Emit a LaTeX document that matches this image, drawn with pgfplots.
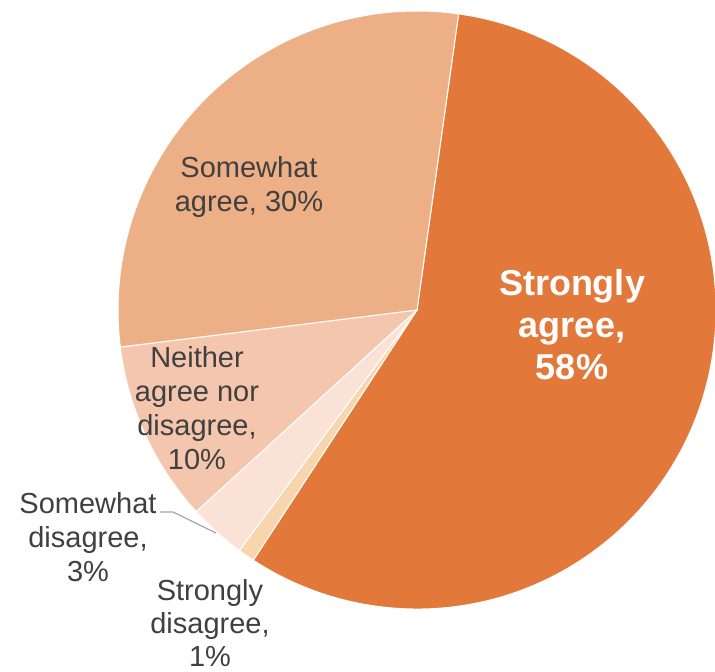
\documentclass[border=0pt]{standalone}
\usepackage{pgfplots}
\pgfplotsset{compat=1.18}
\usepackage{fontspec}
\setmainfont{Liberation Sans}
\definecolor{cSA}{HTML}{E2793A}
\definecolor{cSWA}{HTML}{EDAF85}
\definecolor{cN}{HTML}{F4C6AD}
\definecolor{cSWD}{HTML}{FAE2D6}
\definecolor{cSD}{HTML}{F7D5AD}
\definecolor{txt}{HTML}{404040}
\definecolor{lead}{HTML}{A6A6A6}
% slice: #1 cumulative start percent, #2 percent, #3 colour
\newcommand\slice[3]{%
  \fill[#3,draw=white,line width=1pt] (axis cs:417,362) -- ++({90-8-3.6*(#1)}:299pt)
    arc[start angle={90-8-3.6*(#1)}, end angle={90-8-3.6*(#1+#2)}, radius=299pt] -- cycle;}
\begin{document}
\begin{tikzpicture}
\begin{axis}[x=1pt,y=1pt,xmin=0,xmax=715,ymin=0,ymax=672,hide axis,ticks=none,clip=false,anchor=origin,at={(0,0)}]
% values (percent): Strongly agree 57.0, Strongly disagree 0.9, Somewhat disagree 3.1, Neither 9.8, Somewhat agree 29.2
\slice{0}{57.0}{cSA}
\slice{57.0}{0.9}{cSD}
\slice{57.9}{3.1}{cSWD}
\slice{61.0}{9.8}{cN}
\slice{70.8}{29.2}{cSWA}
\draw[lead,line width=1.2pt] (axis cs:160,160) -- (axis cs:173,160) -- (axis cs:216,139);
\node[align=center,text=white,font=\fontsize{36}{42}\selectfont\bfseries] at (axis cs:572,347) {Strongly\\agree,\\58\%};
\node[align=center,text=txt,font=\fontsize{29}{34}\selectfont] at (axis cs:249,485) {Somewhat\\agree, 30\%};
\node[align=center,text=txt,font=\fontsize{29}{34}\selectfont] at (axis cs:197,264) {Neither\\agree nor\\disagree,\\10\%};
\node[align=center,text=txt,font=\fontsize{29}{34}\selectfont] at (axis cs:88,135) {Somewhat\\disagree,\\3\%};
\node[align=center,text=txt,font=\fontsize{29}{33}\selectfont] at (axis cs:210,49) {Strongly\\disagree,\\1\%};
\end{axis}
\pgfresetboundingbox
\path (0,0) rectangle (715pt,672pt);
\end{tikzpicture}
\end{document}
